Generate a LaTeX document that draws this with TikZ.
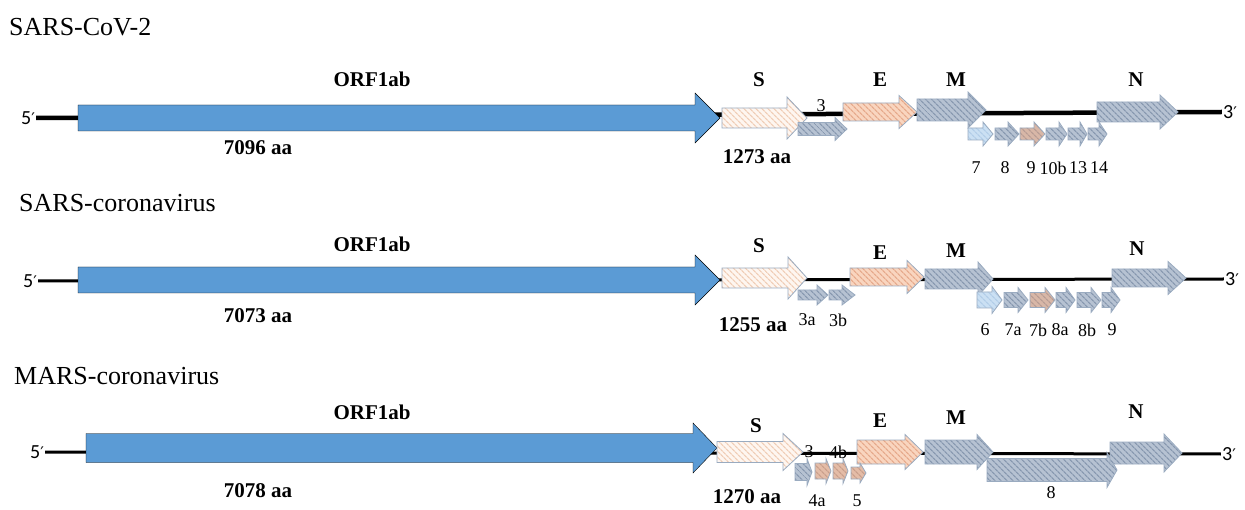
\documentclass[tikz,border=0pt]{standalone}
\usepackage{fontspec}
\setmainfont{Liberation Serif}
\newfontfamily\calibri{Carlito}
\newfontfamily\dejavu{DejaVu Sans}
\usetikzlibrary{patterns.meta}

\definecolor{orfblue}{HTML}{5B9BD5}
\definecolor{outl}{HTML}{9AABC0}
\definecolor{sfill}{HTML}{FEF6F0}
\definecolor{sline}{HTML}{F0CDB6}
\definecolor{efill}{HTML}{F9D5BF}
\definecolor{eline}{HTML}{E6A98B}
\definecolor{mfill}{HTML}{B6C2D2}
\definecolor{mline}{HTML}{8798AF}
\definecolor{lbfill}{HTML}{CBE0F3}
\definecolor{lbline}{HTML}{B2CDE8}
\definecolor{brfill}{HTML}{D8B7A7}
\definecolor{brline}{HTML}{B79C94}
\definecolor{orfill}{HTML}{E4BCA7}
\definecolor{orline}{HTML}{C99F8C}

% gene arrow: [style]{start}{head start}{tip}{y centre}{half body}{half head}
\newcommand{\orf}[7][mprot]{%
  \draw[#1] (#2,#5-#6) -- (#3,#5-#6) -- (#3,#5-#7) -- (#4,#5)
    -- (#3,#5+#7) -- (#3,#5+#6) -- (#2,#5+#6) -- cycle;}
\newcommand{\pr}{{\dejavu\fontsize{16}{20}\selectfont ′}}

\begin{document}
\begin{tikzpicture}[x=1pt,y=-1pt,
  genome/.style={font=\fontsize{26}{30}\selectfont, anchor=west, inner sep=0pt},
  prime/.style={font=\calibri\fontsize{20}{24}\selectfont, inner sep=1pt},
  glabel/.style={font=\bfseries\fontsize{21}{25}\selectfont, inner sep=0pt},
  orflabel/.style={font=\fontsize{18}{21}\selectfont, inner sep=0pt},
  backbone/.style={line width=3pt},
  hatch/.style 2 args={line width=0.8pt, draw=outl, preaction={fill=#1},
    pattern={Lines[angle=-45,distance=4pt,line width=1.3pt]}, pattern color=#2},
  orf1/.style={fill=orfblue},
  sprot/.style={hatch={sfill}{sline}},
  eprot/.style={hatch={efill}{eline}},
  mprot/.style={hatch={mfill}{mline}},
  lbprot/.style={hatch={lbfill}{lbline}},
  brprot/.style={hatch={brfill}{brline}},
  orprot/.style={hatch={orfill}{orline}}]
\useasboundingbox (0,0) rectangle (1245,510);

%SARS-CoV-2
\node[genome] (cov2) at (9,27) {SARS-CoV-2};
\node[prime] (r1five) at (28,118) {5\pr};
\node[prime] (r1three) at (1230,112) {3\pr};
\draw[backbone, line width=4.5pt] (r1five.east) -- (r1three.west);
\orf[orf1]{78}{695}{720}{118}{13}{25}
\orf[sprot]{722}{787}{807}{118}{10}{21}
\orf[eprot]{843}{899}{917}{112}{9}{16.5}
\orf{917}{968}{986}{110}{11}{18}
\orf{1097}{1160}{1178}{112}{10}{17}
\orf{798}{835}{847}{129}{6.5}{11.5}
\orf[lbprot]{968}{983}{993}{134}{6}{12}
\orf{995}{1008}{1019}{134}{6}{12}
\orf[brprot]{1020}{1034}{1045}{134}{6}{12}
\orf{1046}{1059}{1067}{134}{6}{12}
\orf{1068}{1080}{1087}{134}{6}{12}
\orf{1088}{1099}{1107}{134}{6}{12}
\node[glabel] (r1orf) at (372,79) {ORF1ab};
\node[glabel] (r1aa) at (258,148) {7096 aa};
\node[glabel] (r1s) at (759,80) {S};
\node[glabel] (r1e) at (880,80) {E};
\node[glabel] (r1m) at (956,80) {M};
\node[glabel] (r1n) at (1136,80) {N};
\node[glabel] (r1saa) at (757,157) {1273 aa};
\node[orflabel] (r1o3) at (821,106) {3};
\node[orflabel] (r1o7) at (976,168) {7};
\node[orflabel] (r1o8) at (1005,168) {8};
\node[orflabel] (r1o9) at (1031,168) {9};
\node[orflabel] (r1o10) at (1053,168) {10b};
\node[orflabel] (r1o13) at (1078,168) {13};
\node[orflabel] (r1o14) at (1099,168) {14};

%SARS-coronavirus
\node[genome] (sars) at (19,203) {SARS-coronavirus};
\node[prime] (r2five) at (30,281) {5\pr};
\node[prime] (r2three) at (1232,279) {3\pr};
\draw[backbone] (r2five.east) -- (r2three.west);
\orf[orf1]{78}{695}{720}{280}{13}{25}
\orf[sprot]{722}{788}{807}{278}{10}{21}
\orf[eprot]{850}{907}{924}{277}{9}{16.5}
\orf{925}{978}{993}{279}{10}{17}
\orf{1112}{1168}{1186}{278}{9}{16.5}
\orf{798}{817}{828}{295}{5}{10}
\orf{829}{842}{855}{295}{5}{10}
\orf[lbprot]{977}{992}{1002}{300}{8}{13.5}
\orf{1004}{1018}{1028}{300}{7.5}{12.5}
\orf[brprot]{1030}{1045}{1055}{300}{7.5}{12.5}
\orf{1056}{1066}{1075}{300}{7.5}{12.5}
\orf{1077}{1091}{1101}{300}{7.5}{12.5}
\orf{1102}{1111}{1120}{300}{7.5}{12.5}
\node[glabel] (r2orf) at (372,244) {ORF1ab};
\node[glabel] (r2aa) at (258,316) {7073 aa};
\node[glabel] (r2s) at (759,246) {S};
\node[glabel] (r2e) at (880,253) {E};
\node[glabel] (r2m) at (956,251) {M};
\node[glabel] (r2n) at (1137,249) {N};
\node[glabel] (r2saa) at (753,325) {1255 aa};
\node[orflabel] (r2o3a) at (807,320) {3a};
\node[orflabel] (r2o3b) at (838,320) {3b};
\node[orflabel] (r2o6) at (985,330) {6};
\node[orflabel] (r2o7a) at (1013,330) {7a};
\node[orflabel] (r2o7b) at (1038,330) {7b};
\node[orflabel] (r2o8a) at (1060,330) {8a};
\node[orflabel] (r2o8b) at (1087,330) {8b};
\node[orflabel] (r2o9) at (1112,330) {9};

%MARS-coronavirus
\node[genome] (mars) at (14,376) {MARS-coronavirus};
\node[prime] (r3five) at (37,452) {5\pr};
\node[prime] (r3three) at (1229,454) {3\pr};
\draw[backbone] (r3five.east) -- (r3three.west);
\orf[orf1]{86}{693}{717}{448}{14.5}{25}
\orf[sprot]{717}{783}{803}{452}{10.5}{18.5}
\orf[eprot]{857}{905}{923}{452}{12}{17.5}
\orf{925}{977}{993}{452}{12}{17.5}
\orf{987}{1107}{1117}{470}{11.5}{17.5}
\orf{1110}{1164}{1182}{453}{11}{19}
\orf{795}{807}{812}{472}{8.5}{13.5}
\orf[orprot]{815}{826}{831}{471}{8}{12.5}
\orf[orprot]{833}{843}{848}{471}{8}{12.5}
\orf[orprot]{851}{860}{866}{473}{6}{10}
\node[glabel] (r3orf) at (372,412) {ORF1ab};
\node[glabel] (r3aa) at (258,491) {7078 aa};
\node[glabel] (r3s) at (756,426) {S};
\node[glabel] (r3e) at (880,421) {E};
\node[glabel] (r3m) at (956,418) {M};
\node[glabel] (r3n) at (1136,412) {N};
\node[glabel] (r3saa) at (747,497) {1270 aa};
\node[orflabel] (r3o3) at (809,452) {3};
\node[orflabel] (r3o4b) at (838,452) {4b};
\node[orflabel] (r3o4a) at (817,501) {4a};
\node[orflabel] (r3o5) at (857,501) {5};
\node[orflabel] (r3o8) at (1051,493) {8};
\end{tikzpicture}
\end{document}
